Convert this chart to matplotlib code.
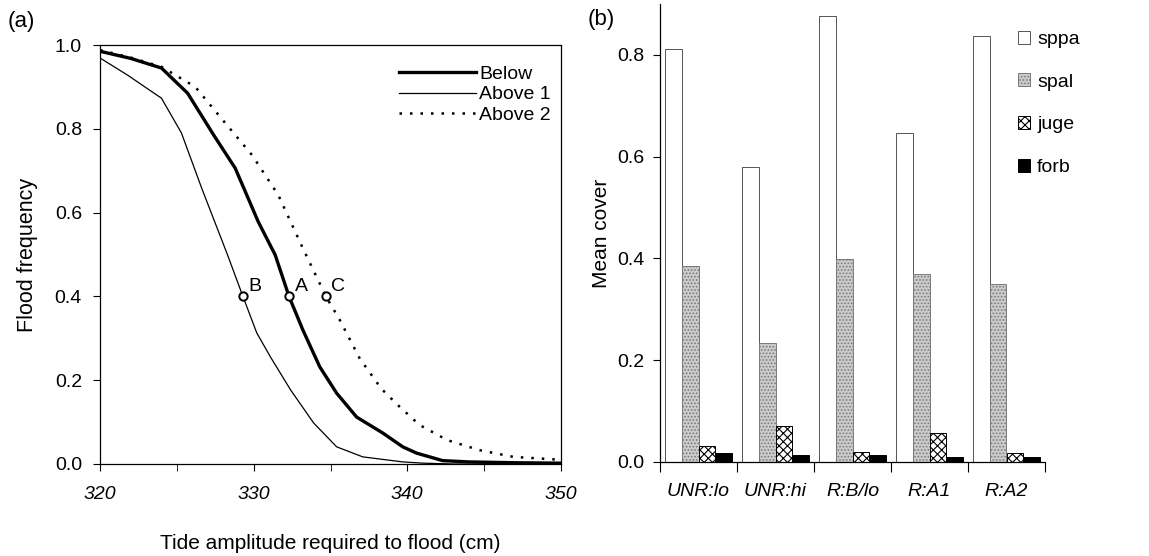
import numpy as np
import matplotlib
matplotlib.use("Agg")
import matplotlib.pyplot as plt

plt.rcParams['font.family'] = ['Liberation Sans', 'DejaVu Sans']
plt.rcParams['font.size'] = 14
plt.rcParams['hatch.linewidth'] = 0.8

# (a) flood frequency curves
below_x = [320, 322, 324, 325.7, 327.4, 328.8, 330.3, 331.4, 332.3, 333.2, 334.3, 335.4,
           336.7, 338.4, 339.7, 340.6, 342.3, 344, 347, 350]
below_y = [0.985, 0.968, 0.945, 0.885, 0.785, 0.706, 0.578, 0.499, 0.40, 0.32, 0.232, 0.169,
           0.112, 0.074, 0.041, 0.026, 0.008, 0.005, 0.003, 0.002]
above1_x = [320, 321.8, 324, 325.3, 326.6, 328.3, 329.3, 330.2, 331.1, 332.4, 333.9, 335.4,
            337.1, 339.7, 341, 343, 350]
above1_y = [0.969, 0.928, 0.873, 0.79, 0.66, 0.499, 0.40, 0.313, 0.255, 0.177, 0.098, 0.041,
            0.017, 0.005, 0.002, 0.0, 0.0]
above2_x = [320, 322, 324, 326.2, 328.1, 329.9, 331.6, 333.2, 334.7, 335.6, 336.9, 338.3,
            339.4, 340.8, 342.6, 344.7, 346.9, 350]
above2_y = [0.988, 0.97, 0.948, 0.9, 0.816, 0.737, 0.642, 0.515, 0.40, 0.344, 0.252, 0.18,
            0.14, 0.093, 0.057, 0.033, 0.017, 0.01]

point_names = ['A', 'B', 'C']
point_x = [332.3, 329.3, 334.7]
point_y = [0.4, 0.4, 0.4]

# (b) mean cover by site
sites = ['UNR:lo', 'UNR:hi', 'R:B/lo', 'R:A1', 'R:A2']
sppa = [0.812, 0.58, 0.877, 0.647, 0.838]
spal = [0.385, 0.233, 0.398, 0.37, 0.349]
juge = [0.031, 0.07, 0.02, 0.057, 0.017]
forb = [0.017, 0.013, 0.013, 0.009, 0.009]

fig = plt.figure(figsize=(11.49, 5.56), dpi=100)

# ---- panel (a)
ax1 = fig.add_axes([100 / 1149, 92 / 556, 461 / 1149, 419 / 556])
ax1.plot(below_x, below_y, color='black', lw=2.4, label='Below')
ax1.plot(above1_x, above1_y, color='black', lw=0.9, label='Above 1')
ax1.plot(above2_x, above2_y, color='black', lw=1.8, linestyle=(0, (1, 3.2)), label='Above 2')
ax1.plot(point_x, point_y, 'o', ms=6, mfc='white', mec='black', mew=1.4, zorder=5)
for name, px, py in zip(point_names, point_x, point_y):
    ax1.annotate(name, (px, py), xytext=(4, 4), textcoords='offset points', fontsize=14)

ax1.set_xlim(320, 350)
ax1.set_ylim(0, 1.0)
ax1.set_xticks([320, 330, 340, 350])
ax1.set_xticks([325, 335, 345], minor=True)
ax1.set_yticks([0.0, 0.2, 0.4, 0.6, 0.8, 1.0])
ax1.set_yticklabels(['0.0', '0.2', '0.4', '0.6', '0.8', '1.0'])
ax1.tick_params(axis='x', which='both', direction='out', length=5, pad=11)
ax1.tick_params(axis='y', direction='out', length=5, pad=8)
for lab in ax1.get_xticklabels():
    lab.set_fontstyle('italic')
for sp in ax1.spines.values():
    sp.set_linewidth(0.9)
ax1.set_ylabel('Flood frequency', fontsize=15.5, labelpad=12)
ax1.set_xlabel('Tide amplitude required to flood (cm)', fontsize=15, labelpad=22)
ax1.legend(loc='upper right', bbox_to_anchor=(0.995, 0.97), frameon=False,
           handlelength=4.0, handletextpad=0.15, labelspacing=0.15, borderaxespad=0)
fig.text(8 / 1149, 1 - 22 / 556, '(a)', fontsize=16, va='center')

# ---- panel (b)
ax2 = fig.add_axes([660 / 1149, 94 / 556, 385 / 1149, 458 / 556])
pos = np.arange(len(sites)) + 0.5
w = 0.215
ax2.bar(pos - 1.5 * w, sppa, w, facecolor='white', edgecolor='#555555', lw=0.7, label='sppa')
ax2.bar(pos - 0.5 * w, spal, w, facecolor='#cccccc', edgecolor='#7a7a7a', lw=0.7,
        hatch='.....', label='spal')
ax2.bar(pos + 0.5 * w, juge, w, facecolor='white', edgecolor='black', lw=0.7,
        hatch='xxxx', label='juge')
ax2.bar(pos + 1.5 * w, forb, w, facecolor='black', edgecolor='black', lw=0.7, label='forb')

ax2.set_xlim(0, len(sites))
ax2.set_ylim(0, 0.9)
ax2.set_yticks([0.0, 0.2, 0.4, 0.6, 0.8])
ax2.set_yticklabels(['0.0', '0.2', '0.4', '0.6', '0.8'])
ax2.set_xticks(np.arange(len(sites) + 1))
ax2.set_xticklabels([])
ax2.set_xticks(pos, minor=True)
ax2.set_xticklabels(sites, minor=True, fontstyle='italic')
ax2.tick_params(axis='x', which='major', direction='out', length=7)
ax2.tick_params(axis='x', which='minor', length=0, pad=15)
ax2.tick_params(axis='y', direction='out', length=5, pad=6)
ax2.spines['top'].set_visible(False)
ax2.spines['right'].set_visible(False)
ax2.spines['left'].set_linewidth(0.9)
ax2.spines['bottom'].set_linewidth(0.9)
ax2.set_ylabel('Mean cover', fontsize=15, labelpad=5)
ax2.legend(loc='upper left', bbox_to_anchor=(1010 / 1149, 1 - 23 / 556),
           bbox_transform=fig.transFigure, frameon=False,
           handlelength=0.65, handleheight=0.65, handletextpad=0.35, labelspacing=1.3,
           borderaxespad=0)
fig.text(588 / 1149, 1 - 20 / 556, '(b)', fontsize=16, va='center')

fig.savefig('out.png', dpi=100)
